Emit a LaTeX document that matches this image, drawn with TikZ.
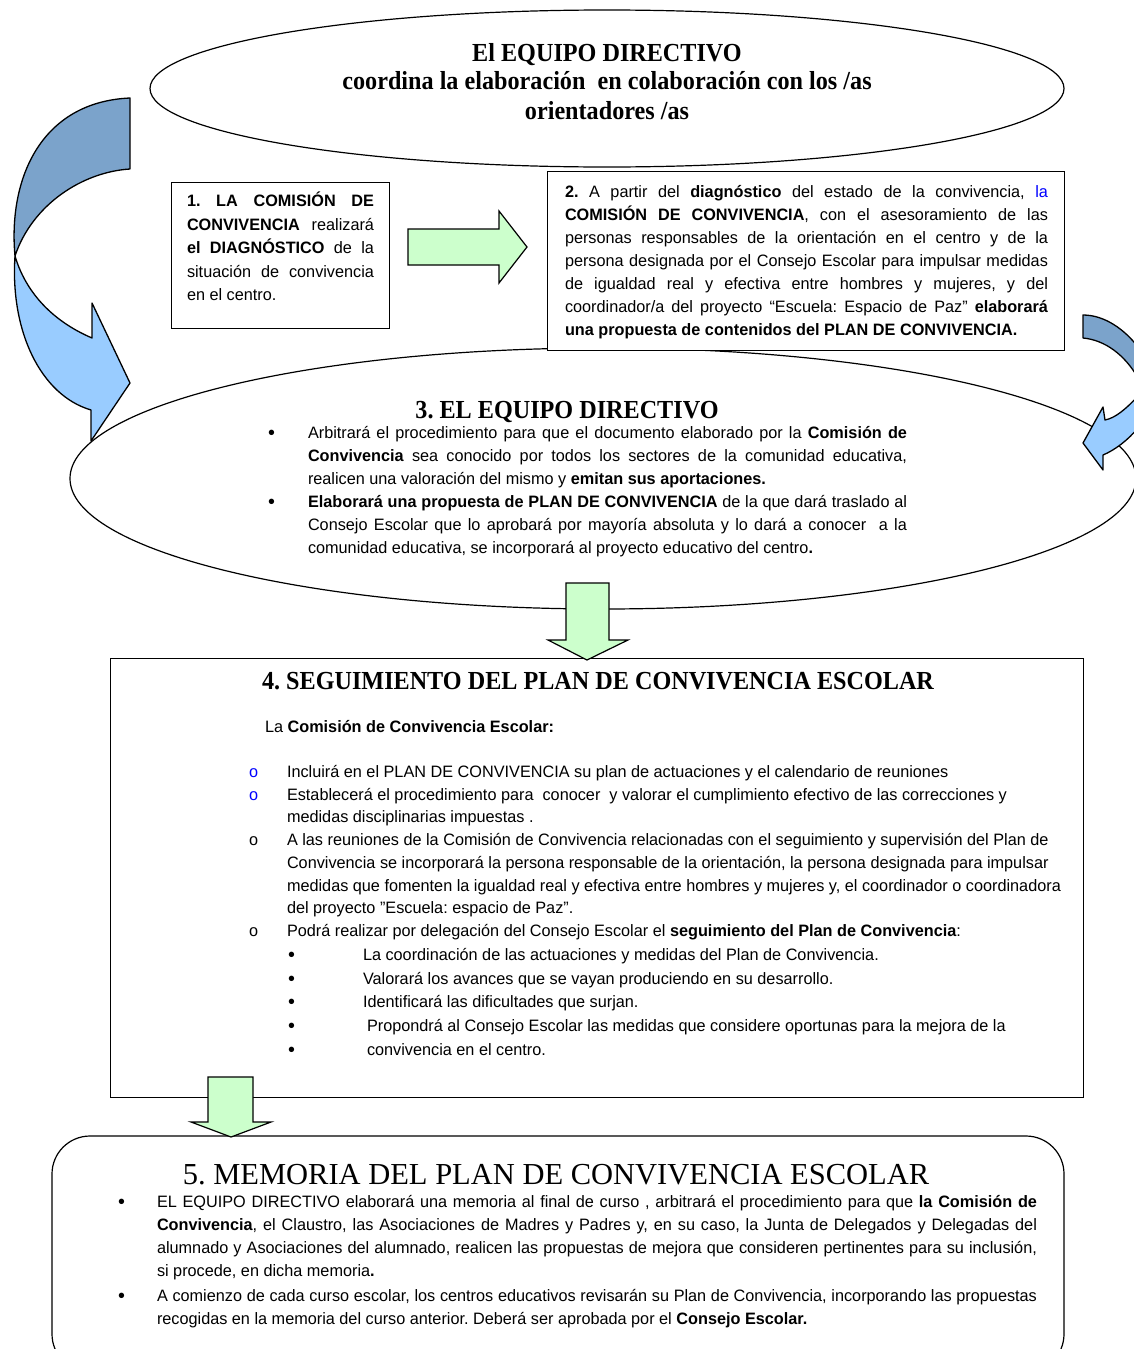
\documentclass[tikz,border=0pt]{standalone}
\usepackage{fontspec}
\setmainfont{Liberation Sans}[FakeStretch=0.985]
\newfontfamily\hdfont{Liberation Serif}[FakeStretch=0.93]
\newfontfamily\memfont{Liberation Serif}
\usetikzlibrary{shapes.geometric}
\definecolor{arrowdark}{RGB}{123,163,203}
\definecolor{arrowlight}{RGB}{153,204,255}
\definecolor{arrowgreen}{RGB}{204,255,204}
\definecolor{wordblue}{RGB}{0,0,255}
\tolerance=10000
\hyphenpenalty=10000
\exhyphenpenalty=10000
\frenchspacing
\begin{document}
\frenchspacing
\begin{tikzpicture}[x=1pt,y={(0pt,-1pt)},
  body/.style={font=\fontsize{16.5}{23}\selectfont, inner sep=0pt, outer sep=0pt},
  bodyb/.style={font=\fontsize{16.5}{23.5}\selectfont, inner sep=0pt, outer sep=0pt},
  para/.style={body, anchor=north west, align=justify},
  txtline/.style={body, anchor=base west},
  dot/.style={font=\fontsize{20}{23}\selectfont, inner sep=0pt, anchor=base west},
  hd/.style={font=\hdfont\bfseries\fontsize{26}{29.5}\selectfont, inner sep=0pt, anchor=base},
  frame/.style={draw, line width=1.2pt, fill=white},
  oval/.style={draw, ellipse, line width=1.2pt, inner sep=0pt},
  blockarrow/.style={draw, line width=1.2pt, line join=miter, fill=arrowgreen},
  twist/.style={draw, line width=1.3pt, line join=round},
]
\useasboundingbox[fill=white] (0,0) rectangle (1134,1349);

% ---- ovals
\node[oval, minimum width=914pt, minimum height=157pt] (oval1) at (607,88.5) {};
\node[oval, minimum width=1066pt, minimum height=261pt] (oval3) at (603,478.5) {};

% ---- boxes
\node[frame, minimum width=218pt, minimum height=146pt, anchor=north west] (box1) at (171,182) {};
\node[frame, minimum width=517pt, minimum height=179pt, anchor=north west] (box2) at (547,171) {};
\node[frame, minimum width=973pt, minimum height=439pt, anchor=north west] (box4) at (110,658) {};
\draw[line width=1.2pt, rounded corners=38pt, fill=white] (52,1372) -- (52,1136) -- (1064,1136) -- (1064,1372) -- cycle;
\coordinate (box5) at (558,1136);

% ---- twisted arrows
\draw[twist, fill=arrowdark] (130,98) -- (130,169) .. controls (82,172) and (32,205) .. (15,256) .. controls (8,180) and (40,102) .. (130,98) -- cycle;
\draw[twist, fill=arrowlight] (15,256) .. controls (10,330) and (40,395) .. (91,410) -- (91,441) -- (130,383) -- (92,303) -- (92,338) .. controls (50,320) and (25,290) .. (15,256) -- cycle;
\draw[twist, fill=arrowdark] (1083,315) -- (1083,338) .. controls (1105,340) and (1125,355) .. (1138,378) -- (1138,347) .. controls (1125,330) and (1105,315) .. (1083,315) -- cycle;
\draw[twist, fill=arrowlight] (1138,396) .. controls (1125,410) and (1115,418) .. (1105,420) -- (1103,407) -- (1083,443) -- (1103,470) -- (1103,455) .. controls (1115,450) and (1128,440) .. (1138,428) -- cycle;

% ---- green block arrows
\draw[blockarrow] (408,229) -- (499,229) -- (499,211) -- (527,247) -- (499,283) -- (499,265) -- (408,265) -- cycle;
\draw[blockarrow] (566,583) -- (609,583) -- (609,640) -- (628,640) -- (587,660) -- (548,640) -- (566,640) -- cycle;
\draw[blockarrow] (208,1077) -- (253,1077) -- (253,1122) -- (271,1122) -- (231,1137) -- (191,1122) -- (208,1122) -- cycle;

% ---- top oval text
\node[hd] (t1a) at (607,61.5) {El EQUIPO DIRECTIVO};
\node[hd] (t1b) at (607,89.5) {coordina la elaboración\ \ en colaboración con los /as};
\node[hd] (t1c) at (607,119) {orientadores /as};

% ---- box 1
\node[para, bodyb, align=justify, text width=187pt] (p1) at (187,190.4) {\strut\textbf{1. LA COMISIÓN DE}\linebreak \textbf{CONVIVENCIA} realizará\linebreak \textbf{el DIAGNÓSTICO} de la\linebreak situación de convivencia\linebreak en el centro.};

% ---- box 2
\node[para, text width=483pt] (p2) at (565,181.4) {\strut\textbf{2.} A partir del \textbf{diagnóstico} del estado de la convivencia, \textcolor{wordblue}{la}\linebreak \textbf{COMISIÓN DE CONVIVENCIA}, con el asesoramiento de las\linebreak personas responsables de la orientación en el centro y de la\linebreak persona designada por el Consejo Escolar para impulsar medidas\linebreak de igualdad real y efectiva entre hombres y mujeres, y del\linebreak coordinador/a del proyecto “Escuela: Espacio de Paz” \textbf{elaborará}\linebreak \textbf{una propuesta de contenidos del PLAN DE CONVIVENCIA.}};

% ---- oval 3
\node[hd] (t3) at (567,418) {3. EL EQUIPO DIRECTIVO};
\node[dot] (b3a) at (268,439) {•};
\node[para, text width=599pt] (p3a) at (308,422.4) {\strut Arbitrará el procedimiento para que el documento elaborado por la \textbf{Comisión de}\linebreak \textbf{Convivencia} sea conocido por todos los sectores de la comunidad educativa,\linebreak realicen una valoración del mismo y \textbf{emitan sus aportaciones.}};
\node[dot] (b3b) at (268,508) {•};
\node[para, text width=599pt] (p3b) at (308,491.4) {\strut\textbf{Elaborará una propuesta de PLAN DE CONVIVENCIA} de la que dará traslado al\linebreak Consejo Escolar que lo aprobará por mayoría absoluta y lo dará a conocer\ \ a la\linebreak comunidad educativa, se incorporará al proyecto educativo del centro\textbf{.}};

% ---- box 4
\node[hd] (t4) at (598,689) {4. SEGUIMIENTO DEL PLAN DE CONVIVENCIA ESCOLAR};
\node[txtline] (l0) at (265,732.5) {La \textbf{Comisión de Convivencia Escolar:}};
\node[txtline, text=wordblue] (m1) at (249,777.5) {o};
\node[txtline] (l1) at (287,777.5) {Incluirá en el PLAN DE CONVIVENCIA su plan de actuaciones y el calendario de reuniones};
\node[txtline, text=wordblue] (m2) at (249,800.5) {o};
\node[txtline] (l2) at (287,800.5) {Establecerá el procedimiento para\ \ conocer\ \ y valorar el cumplimiento efectivo de las correcciones y};
\node[txtline] (l3) at (287,822.5) {medidas disciplinarias impuestas .};
\node[txtline] (m3) at (249,845.5) {o};
\node[txtline] (l4) at (287,845.5) {A las reuniones de la Comisión de Convivencia relacionadas con el seguimiento y supervisión del Plan de};
\node[txtline] (l5) at (287,868.5) {Convivencia se incorporará la persona responsable de la orientación, la persona designada para impulsar};
\node[txtline] (l6) at (287,891.5) {medidas que fomenten la igualdad real y efectiva entre hombres y mujeres y, el coordinador o coordinadora};
\node[txtline] (l7) at (287,913.5) {del proyecto ”Escuela: espacio de Paz”.};
\node[txtline] (m4) at (249,936.5) {o};
\node[txtline] (l8) at (287,936.5) {Podrá realizar por delegación del Consejo Escolar el \textbf{seguimiento del Plan de Convivencia}:};
\node[dot] (s1) at (288,961) {•};
\node[txtline] (l9) at (363,960.5) {La coordinación de las actuaciones y medidas del Plan de Convivencia.};
\node[dot] (s2) at (288,985) {•};
\node[txtline] (l10) at (363,984.5) {Valorará los avances que se vayan produciendo en su desarrollo.};
\node[dot] (s3) at (288,1008) {•};
\node[txtline] (l11) at (363,1007.5) {Identificará las dificultades que surjan.};
\node[dot] (s4) at (288,1032) {•};
\node[txtline] (l12) at (367,1031.5) {Propondrá al Consejo Escolar las medidas que considere oportunas para la mejora de la};
\node[dot] (s5) at (288,1056) {•};
\node[txtline] (l13) at (367,1055.5) {convivencia en el centro.};

% ---- box 5
\node[font=\memfont\fontsize{30.5}{34}\selectfont, inner sep=0pt, anchor=base] (t5) at (556,1184) {5. MEMORIA DEL PLAN DE CONVIVENCIA ESCOLAR};
\node[dot] (b5a) at (118,1208) {•};
\node[para, text width=880pt] (p5a) at (157,1191.4) {\strut EL EQUIPO DIRECTIVO elaborará una memoria al final de curso , arbitrará el procedimiento para que \textbf{la Comisión de}\linebreak \textbf{Convivencia}, el Claustro, las Asociaciones de Madres y Padres y, en su caso, la Junta de Delegados y Delegadas del\linebreak alumnado y Asociaciones del alumnado, realicen las propuestas de mejora que consideren pertinentes para su inclusión,\linebreak si procede, en dicha memoria\textbf{.}};
\node[dot] (b5b) at (118,1302) {•};
\node[para, text width=880pt] (p5b) at (157,1285.4) {\strut A comienzo de cada curso escolar, los centros educativos revisarán su Plan de Convivencia, incorporando las propuestas\linebreak recogidas en la memoria del curso anterior. Deberá ser aprobada por el \textbf{Consejo Escolar.}};
\end{tikzpicture}
\end{document}
